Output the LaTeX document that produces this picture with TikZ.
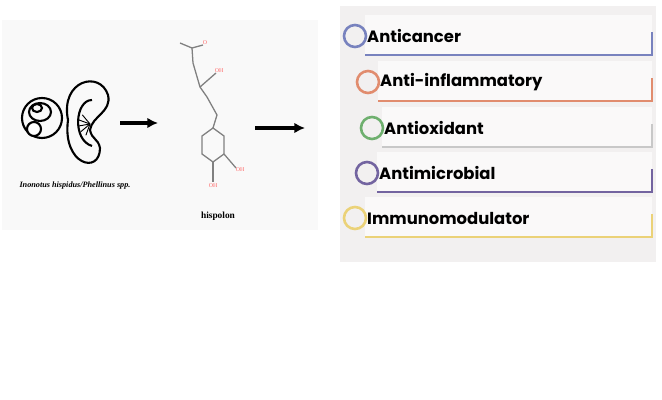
\documentclass[tikz,border=0pt]{standalone}
\usepackage{fontspec}
\setmainfont{Liberation Serif}
\newfontfamily\labelfont{Poppins}[BoldFont={* Bold}]
\usetikzlibrary{positioning,arrows.meta}
\definecolor{myblue}{RGB}{120,130,190}
\definecolor{myred}{RGB}{225,140,110}
\definecolor{mygreen}{RGB}{110,175,110}
\definecolor{mygrey}{RGB}{200,200,200}
\definecolor{mypurple}{RGB}{115,100,160}
\definecolor{myyellow}{RGB}{235,210,120}
\definecolor{mypanel}{RGB}{242,240,240}

\begin{document}
\begin{tikzpicture}[x=0.03cm,y=-0.03cm,
  panel/.style={fill=mypanel,draw=none},
  ring/.style={circle,draw,line width=2.2pt,minimum size=0.66cm,inner sep=0pt},
  bar/.style={line width=2.4pt},
  prop/.style={anchor=west,inner sep=0pt,font=\labelfont\bfseries\fontsize{14}{16}\selectfont},
  bond/.style={draw=gray,line width=1.1pt},
  atom/.style={font=\tiny,text=red!60,inner sep=0pt},
  fat/.style={-{Latex[length=9pt,width=9pt]},line width=3pt}]

  \useasboundingbox (0,0) rectangle (662,400);

  % left panel
  \fill[white!95!gray] (2,20) rectangle (318,230);

  % mushroom
  \begin{scope}[line width=1.8pt]
    \draw (42,118) circle (20);
    \draw (40,112) ellipse (11 and 9);
    \draw (37,108) ellipse (5 and 4);
    \fill[white,draw=black] (34,129) circle (7);
    \draw (108,95) .. controls (100,70) and (60,80) .. (68,120)
      .. controls (62,165) and (100,175) .. (100,148)
      .. controls (98,138) and (92,140) .. (90,130)
      .. controls (92,116) and (112,112) .. (108,95) -- cycle;
    \draw (92,100) .. controls (75,100) and (72,140) .. (92,146);
    \foreach \a in {110,140,170,200,230}
      \draw[line width=0.8pt] (90,124) -- +(\a:12);
  \end{scope}
  \node[font=\scriptsize\bfseries\itshape] (fungus) at (75,186) {Inonotus hispidus/Phellinus spp.};

  \draw[fat] (120,123) -- (158,123);

  % hispolon
  \coordinate (r1) at (213,128);
  \draw[bond] (r1) -- (224,136) -- (224,154) -- (213,162) -- (202,154) -- (202,136) -- cycle;
  \draw[bond] (r1) -- (217,115) -- (207,97) -- (200,87) -- (193,63) -- (192,48) -- (180,43);
  \draw[bond] (192,48) -- (203,45);
  \draw[bond] (200,87) -- (216,73);
  \draw[bond] (224,154) -- (236,168);
  \draw[bond] (213,162) -- (213,182);
  \node[atom] (o1) at (205,43) {O};
  \node[atom] (o2) at (219,71) {OH};
  \node[atom] (o3) at (240,170) {OH};
  \node[atom] (o4) at (213,186) {OH};
  \node[font=\footnotesize\bfseries] (hisp) at (218,216) {hispolon};

  \draw[fat] (255,128) -- (305,128);

  % right panel
  \fill[panel] (340,6) rectangle (656,262);

  \foreach \y/\x/\c/\b/\t [count=\i] in {
      36/355/myblue/myblue/Anticancer,
      82/368/myred/myred/Anti-inflammatory,
      128/372/mygreen/mygrey/Antioxidant,
      173/367/mypurple/mypurple/Antimicrobial,
      218/355/myyellow/myyellow/Immunomodulator}{
    \fill[white!60!mypanel] (\x+10,\y-21) rectangle (652,\y+18);
    \draw[bar,\b] (\x+10,\y+19) -- (652,\y+19) -- (652,\y-4);
    \node[ring,draw=\c] (c\i) at (\x,\y) {};
    \node[prop] (p\i) at (\x+12,\y) {\t};
  }
\end{tikzpicture}
\end{document}
